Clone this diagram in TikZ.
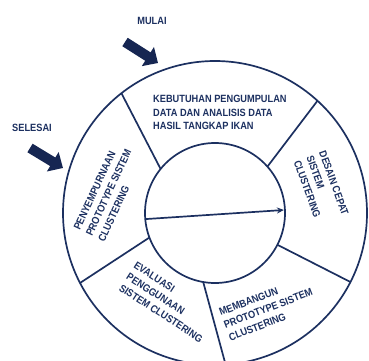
\documentclass[tikz,border=0pt]{standalone}
\usepackage{fontspec}
\setmainfont{Liberation Sans}[FakeStretch=0.88]
\usetikzlibrary{calc,arrows.meta}
\definecolor{navy}{RGB}{28,48,96}
\definecolor{darknavy}{RGB}{22,38,82}
\tikzset{
  ring/.style={line width=1.7pt, color=navy},
  phase/.style={inner sep=0pt, anchor=north west, align=left, text=navy,
    font=\fontsize{10.5}{13.5}\selectfont\bfseries},
  label/.style={inner sep=0pt, text=navy, font=\fontsize{10.5}{13.5}\selectfont\bfseries},
  blockarrow/.style={line width=10pt, color=darknavy, -{Triangle[length=12pt,width=22pt]}}
}

\begin{document}
\begin{tikzpicture}[x=1pt,y=1pt]
  %%%%% START %%%%%
  \useasboundingbox (0,0) rectangle (369,360);
  \clip (0,0) rectangle (369,360);

  \coordinate (c) at (215,147);

  % rings
  \draw[ring] (c) circle (152);
  \draw[ring] (c) circle (70);

  % spokes
  \draw[ring] ($(c)+(141:70)$) -- ($(c)+(128:152)$);
  \draw[ring] ($(c)+(41.5:70)$) -- ($(c)+(47.6:152)$);
  \draw[ring] ($(c)+(-27:70)$) -- ($(c)+(-27:152)$);
  \draw[ring] ($(c)+(-99.7:70)$) -- ($(c)+(-86:152)$);
  \draw[ring] ($(c)+(-159.5:70)$) -- ($(c)+(-152.6:152)$);

  % arrow through the middle
  \draw[ring, -{Stealth[length=7pt,width=6pt]}] ($(c)+(185:70)$) -- ($(c)+(2.5:69)$);

  % phases
  \node[phase] (kebutuhan) at (153,265) {KEBUTUHAN PENGUMPULAN\\DATA DAN ANALISIS DATA\\HASIL TANGKAP IKAN};
  \node[phase, rotate=-70] (desain) at (326,210) {DESAIN CEPAT\\SISTEM\\CLUSTERING};
  \node[phase, rotate=21] (membangun) at (218,51) {MEMBANGUN\\PROTOTYPE SISTEM\\CLUSTERING};
  \node[phase, rotate=-33] (evaluasi) at (137,99) {EVALUASI\\PENGGUNAAN\\SISTEM CLUSTERING};
  \node[phase, rotate=65] (penyempurnaan) at (73,132) {PENYEMPURNAAN\\PROTOTYPE SISTEM\\CLUSTERING};

  % start and end
  \node[label] (mulai) at (152,339) {MULAI};
  \node[label] (selesai) at (32,232) {SELESAI};
  \coordinate (mulaitail) at (125,318);
  \coordinate (mulaitip) at (158,297);
  \coordinate (selesaitail) at (30,212);
  \coordinate (selesaitip) at (63,192);
  \draw[blockarrow] (mulaitail) -- (mulaitip);
  \draw[blockarrow] (selesaitail) -- (selesaitip);
  %%%%% END %%%%%
\end{tikzpicture}
\end{document}
